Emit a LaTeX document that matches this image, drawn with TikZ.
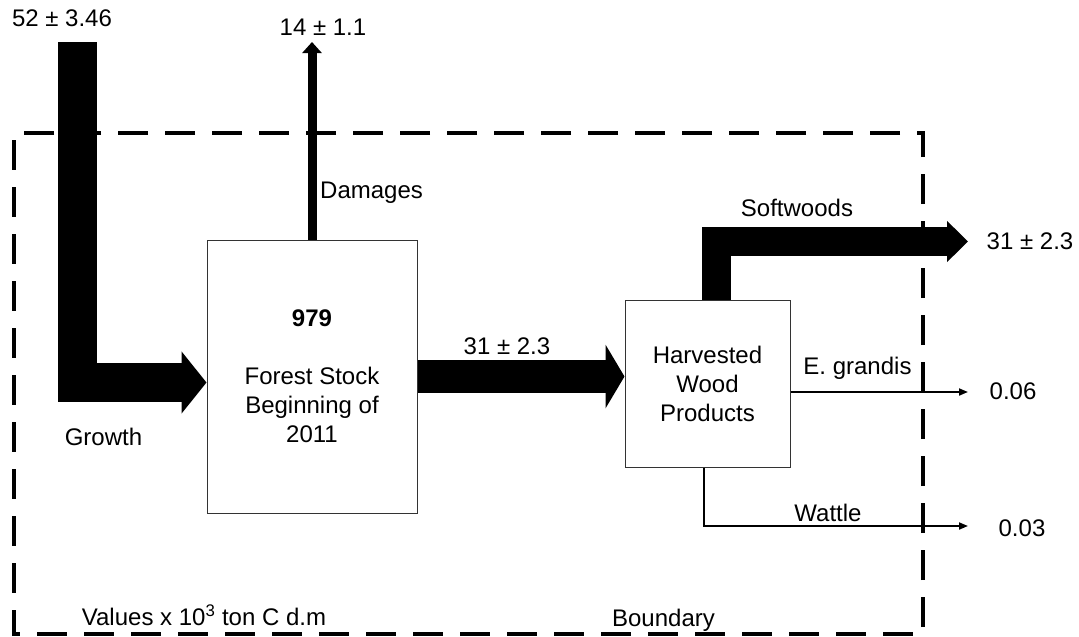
\documentclass[tikz,border=0pt]{standalone}
\usepackage{fontspec}
\setmainfont{Liberation Sans}
\usetikzlibrary{arrows.meta}
\begin{document}
\begin{tikzpicture}[x=1pt,y=-1pt,
  every node/.style={font=\fontsize{24}{29}\selectfont, inner sep=0pt},
  boxnode/.style={draw=black!80, line width=1pt, fill=white, align=center},
  lbl/.style={},
  boundaryline/.style={line width=4pt, dash pattern=on 30pt off 17pt, dash phase=40pt},
  thinflow/.style={line width=1.8pt, -{Triangle[length=9pt,width=7pt]}}
]
\useasboundingbox (0,0) rectangle (1079,637);
% boundary
\draw[boundaryline] (14,133) rectangle (923,634);
% boxes
\node[boxnode, minimum width=210pt, minimum height=273pt] (forest) at (312,376.5)
  {\textbf{979}\\[29pt]Forest Stock\\Beginning of\\2011};
\node[boxnode, minimum width=165pt, minimum height=167pt] (hwp) at (707.5,383.5)
  {Harvested\\Wood\\Products};
% free end coordinates
\coordinate (g0) at (77.5,42);
\coordinate (d1) at (312,42);
\coordinate (sw) at (968,241.5);
\coordinate (eg) at (968,392);
\coordinate (wt) at (968,526);
% connectors
\draw[line width=39pt, -{Triangle[length=25pt,width=61pt]}] (g0) |- ([yshift=-6pt]forest.west);
\draw[line width=9pt, -{Triangle[length=11pt,width=19pt]}] (forest.north) -- (d1);
\draw[line width=33pt, -{Triangle[length=19pt,width=63pt]}] (forest.east) -- (forest.east -| hwp.west);
\draw[line width=29pt, -{Triangle[length=21pt,width=40pt]}] ([xshift=8.5pt]hwp.north) |- (sw);
\draw[thinflow] ([yshift=-8.5pt]hwp.east) -- (eg);
\draw[thinflow] ([xshift=-3.5pt]hwp.south) |- (wt);
% labels
\node[lbl] (l52) at (62,18) {52 ± 3.46};
\node[lbl] (l14) at (323,27) {14 ± 1.1};
\node[lbl, anchor=west] (ldam) at (320,193) {Damages};
\node[lbl] (lgro) at (103.5,437) {Growth};
\node[lbl] (l31a) at (507,346) {31 ± 2.3};
\node[lbl] (lsoft) at (797,208) {Softwoods};
\node[lbl] (l31b) at (1030,241) {31 ± 2.3};
\node[lbl] (leg) at (857.5,368) {E. grandis};
\node[lbl] (l006) at (1013,391) {0.06};
\node[lbl] (lwat) at (828,513) {Wattle};
\node[lbl] (l003) at (1022,528) {0.03};
\node[lbl] (lval) at (204,615) {Values x 10\textsuperscript{3} ton C d.m};
\node[lbl] (lbnd) at (663.5,620) {Boundary};
\end{tikzpicture}
\end{document}
